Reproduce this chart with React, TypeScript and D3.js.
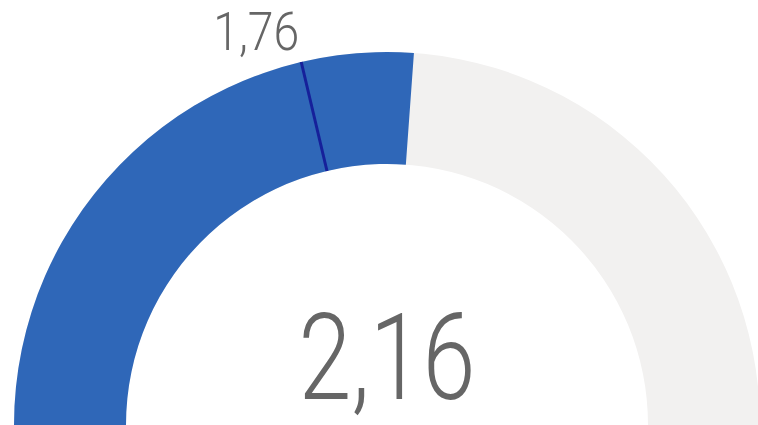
import { useEffect, useRef } from "react";
import * as d3 from "d3";

// gauge values
const gaugeRange = [0, 4.13];
const gaugeValue = [2.16];
const gaugeTarget = [1.76];
const valueLabels = ["2,16"];
const targetLabels = ["1,76"];

export default function App() {
  const ref = useRef<SVGSVGElement | null>(null);

  useEffect(() => {
    const width = 758;
    const height = 425;
    const cx = 387;
    const cy = 425;
    const outerR = 373;
    const innerR = 261;

    const svg = d3.select(ref.current).attr("width", width).attr("height", height);
    svg.selectAll("*").remove();

    const angle = d3.scaleLinear().domain(gaugeRange).range([-Math.PI / 2, Math.PI / 2]);

    const arc = d3.arc<{ start: number; end: number }>()
      .innerRadius(innerR)
      .outerRadius(outerR)
      .startAngle((d) => d.start)
      .endAngle((d) => d.end);

    const g = svg.append("g").attr("transform", `translate(${cx}, ${cy})`);

    // background track
    g.append("path")
      .attr("d", arc({ start: angle(gaugeRange[0]), end: angle(gaugeRange[1]) })!)
      .attr("fill", "#f2f1f0");

    // value fill
    g.append("path")
      .attr("d", arc({ start: angle(gaugeRange[0]), end: angle(gaugeValue[0]) })!)
      .attr("fill", "#2f67b8");

    // target marker
    const ta = angle(gaugeTarget[0]);
    const pt = (r: number) => [r * Math.sin(ta), -r * Math.cos(ta)];
    const [x1, y1] = pt(innerR);
    const [x2, y2] = pt(outerR);
    g.append("line")
      .attr("x1", x1)
      .attr("y1", y1)
      .attr("x2", x2)
      .attr("y2", y2)
      .attr("stroke", "#16209a")
      .attr("stroke-width", 3);

    // target label
    g.append("text")
      .attr("x", x2 - 2)
      .attr("y", y2 - 12)
      .attr("text-anchor", "end")
      .attr("font-family", "Roboto")
      .attr("font-weight", 300)
      .attr("font-size", 53)
      .attr("fill", "#666666")
      .attr("textLength", 86)
      .attr("lengthAdjust", "spacingAndGlyphs")
      .text(targetLabels[0]);

    // main value
    g.append("text")
      .attr("x", 0)
      .attr("y", -26)
      .attr("text-anchor", "middle")
      .attr("font-family", "Roboto")
      .attr("font-weight", 300)
      .attr("font-size", 120)
      .attr("fill", "#666666")
      .attr("textLength", 177)
      .attr("lengthAdjust", "spacingAndGlyphs")
      .text(valueLabels[0]);
  }, []);

  return (
    <svg ref={ref} style={{ position: "absolute", left: 0, top: 0, display: "block", background: "#ffffff" }} />
  );
}
